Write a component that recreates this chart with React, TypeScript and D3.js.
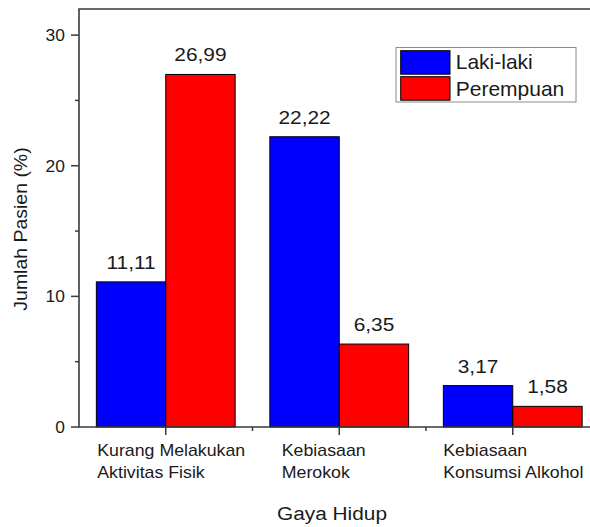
import React from "react";
import * as d3 from "d3";

const WIDTH = 590;
const HEIGHT = 527;
const PLOT = { left: 79, top: 9, bottom: 427, right: 599.5 };

const categories = [
  ["Kurang Melakukan", "Aktivitas Fisik"],
  ["Kebiasaan", "Merokok"],
  ["Kebiasaan", "Konsumsi Alkohol"],
];
const seriesNames = ["Laki-laki", "Perempuan"];
const seriesColors = ["#0000ff", "#ff0000"];
const lakiLaki = [11.11, 22.22, 3.17];
const perempuan = [26.99, 6.35, 1.58];
const yMajorTicks = [0, 10, 20, 30];
const yMinorTicks = [5, 15, 25];
// per-category shift of the (left aligned) label block
const LABEL_DX = [-68.5, -57.5, -69.5];

const FONT = "Arial, 'Liberation Sans', Helvetica, sans-serif";
const INK = "#1a1a1a";

const T = ({ x, y, fs, sx = 1, anchor = "start", rotate = 0, children }: any) => (
  <text
    transform={`translate(${x},${y}) rotate(${rotate}) scale(${sx},1)`}
    fontSize={fs}
    textAnchor={anchor}
    fill={INK}
    fontFamily={FONT}
  >
    {children}
  </text>
);

const fmt = (v: number) => v.toFixed(2).replace(".", ",");

export default function App() {
  const yScale = d3.scaleLinear().domain([0, 32]).range([PLOT.bottom, PLOT.top]);
  // categories sit at 1, 2, 3
  const xScale = d3.scaleLinear().domain([0.5, 3.5]).range([PLOT.left, PLOT.right]);
  const barW = 0.4;
  const series = [lakiLaki, perempuan];

  const xMinor = d3.range(1.5, 3.5, 1);

  return (
    <svg
      width={WIDTH}
      height={HEIGHT}
      style={{ position: "absolute", left: 0, top: 0, background: "#fff" }}
    >
      {/* bars */}
      {series.map((vals, s) =>
        vals.map((v, i) => {
          const x0 = xScale(i + 1 + (s === 0 ? -barW : 0));
          const x1 = xScale(i + 1 + (s === 0 ? 0 : barW));
          const yTop = yScale(v);
          return (
            <g key={`${s}-${i}`}>
              <rect
                x={x0}
                y={yTop}
                width={x1 - x0}
                height={yScale(0) - yTop}
                fill={seriesColors[s]}
                stroke="#000"
                strokeWidth={1}
              />
              <T x={(x0 + x1) / 2} y={yTop - 13} fs={18} sx={1.16} anchor="middle">
                {fmt(v)}
              </T>
            </g>
          );
        })
      )}

      {/* frame */}
      <path
        d={`M${PLOT.right},${PLOT.top}H${PLOT.left}V${PLOT.bottom}H${PLOT.right}`}
        fill="none"
        stroke="#3a3a3a"
        strokeWidth={1.6}
      />

      {/* y ticks */}
      {yMajorTicks.map((t) => (
        <g key={`ym${t}`}>
          <line x1={PLOT.left - 8} x2={PLOT.left} y1={yScale(t)} y2={yScale(t)} stroke="#3a3a3a" strokeWidth={1.5} />
          <T x={65} y={yScale(t) + 5.8} fs={16} sx={1.09} anchor="end">
            {t}
          </T>
        </g>
      ))}
      {yMinorTicks.map((t) => (
        <line key={`yn${t}`} x1={PLOT.left - 4} x2={PLOT.left} y1={yScale(t)} y2={yScale(t)} stroke="#3a3a3a" strokeWidth={1.5} />
      ))}

      {/* x ticks */}
      {categories.map((_, i) => (
        <line key={`xm${i}`} x1={xScale(i + 1)} x2={xScale(i + 1)} y1={PLOT.bottom} y2={PLOT.bottom + 8} stroke="#3a3a3a" strokeWidth={1.5} />
      ))}
      {xMinor.map((t) => (
        <line key={`xn${t}`} x1={xScale(t)} x2={xScale(t)} y1={PLOT.bottom} y2={PLOT.bottom + 4} stroke="#3a3a3a" strokeWidth={1.5} />
      ))}

      {/* category labels */}
      {categories.map((lines, i) =>
        lines.map((ln, j) => (
          <T key={`c${i}${j}`} x={xScale(i + 1) + LABEL_DX[i]} y={455.5 + j * 22.7} fs={16} sx={1.11}>
            {ln}
          </T>
        ))
      )}

      {/* axis titles */}
      <T x={332} y={520} fs={18.6} sx={1.12} anchor="middle">
        Gaya Hidup
      </T>
      <T x={27} y={229} fs={17.7} sx={1.1} anchor="middle" rotate={-90}>
        Jumlah Pasien (%)
      </T>

      {/* legend */}
      <g>
        <rect x={396} y={47.5} width={180} height={54.5} fill="#fff" stroke="#8a8a8a" strokeWidth={1} />
        {seriesNames.map((name, s) => (
          <g key={name}>
            <rect x={400.7} y={50.7 + s * 26} width={49.3} height={23.5} fill={seriesColors[s]} stroke="#000" strokeWidth={1} />
            <T x={455.7} y={69 + s * 27} fs={21}>
              {name}
            </T>
          </g>
        ))}
      </g>
    </svg>
  );
}
